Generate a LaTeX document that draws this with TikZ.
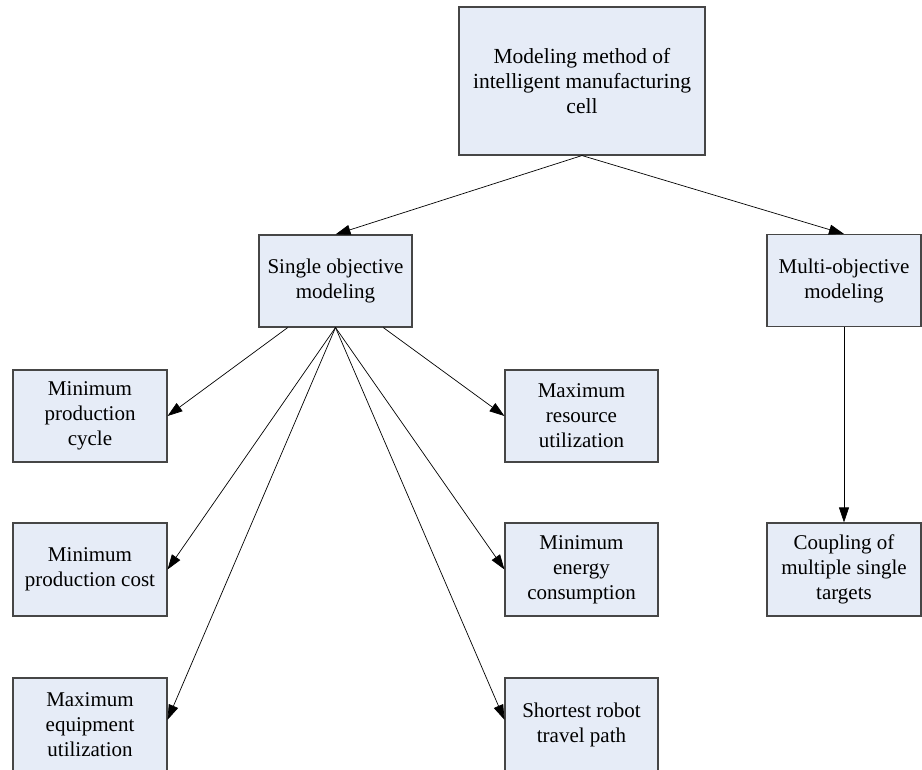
\documentclass[tikz,border=0pt]{standalone}
\usepackage{fontspec}
\setmainfont{Liberation Serif}
\usetikzlibrary{arrows.meta,calc}

\definecolor{boxfill}{RGB}{230,236,247}
\definecolor{boxline}{RGB}{70,70,70}

\tikzset{
  box/.style={draw=boxline, fill=boxfill, line width=1.1pt, rectangle,
    align=center, inner sep=0pt,
    font=\fontsize{21pt}{25pt}\selectfont,
    minimum width=153pt, minimum height=92pt},
  link/.style={draw=black, line width=0.7pt,
    -{Triangle[length=15pt,width=10pt]}}
}

\begin{document}
\begin{tikzpicture}[x=1pt,y=-1pt]
\useasboundingbox (0,0) rectangle (922,770);
\clip (0,0) rectangle (922,770);

% root
\node[box, minimum width=246pt, minimum height=148pt,
      font=\fontsize{21.5pt}{25pt}\selectfont] (root) at (582,81)
  {Modeling method of\\intelligent manufacturing\\cell};

% second level
\node[box] (single) at (335.5,281) {Single objective\\modeling};
\node[box, minimum width=154pt] (multi) at (844,280.5) {Multi-objective\\modeling};

% single objective targets, left column
\node[box, minimum width=154pt] (mincycle) at (90,416) {Minimum\\production\\cycle};
\node[box, minimum width=154pt, minimum height=93pt] (mincost) at (90,569.5) {Minimum\\production cost};
\node[box, minimum width=154pt, minimum height=93pt] (maxequip) at (90,724.5) {Maximum\\equipment\\utilization};

% single objective targets, right column
\node[box] (maxres) at (581.5,416) {Maximum\\resource\\utilization};
\node[box, minimum height=93pt] (minenergy) at (581.5,569.5) {Minimum\\energy\\consumption};
\node[box, minimum height=93pt] (shortest) at (581.5,724.5) {Shortest robot\\travel path};

% multi objective target
\node[box, minimum width=154pt, minimum height=93pt] (coupling) at (844,569.5) {Coupling of\\multiple single\\targets};

% side exits on the bottom edge of the single objective box
\coordinate (sL) at ($(single.south west)!0.19!(single.south east)$);
\coordinate (sR) at ($(single.south west)!0.81!(single.south east)$);

% connectors
\draw[link] (root.south) -- (single.north);
\draw[link] (root.south) -- (multi.north);

\draw[link] (sL) -- (mincycle.east);
\draw[link] (single.south) -- (mincost.east);
\draw[link] (single.south) -- ($(maxequip.north east)!0.45!(maxequip.south east)$);
\draw[link] (sR) -- (maxres.west);
\draw[link] (single.south) -- (minenergy.west);
\draw[link] (single.south) -- ($(shortest.north west)!0.45!(shortest.south west)$);

\draw[link] (multi.south) -- (coupling.north);
\end{tikzpicture}
\end{document}
